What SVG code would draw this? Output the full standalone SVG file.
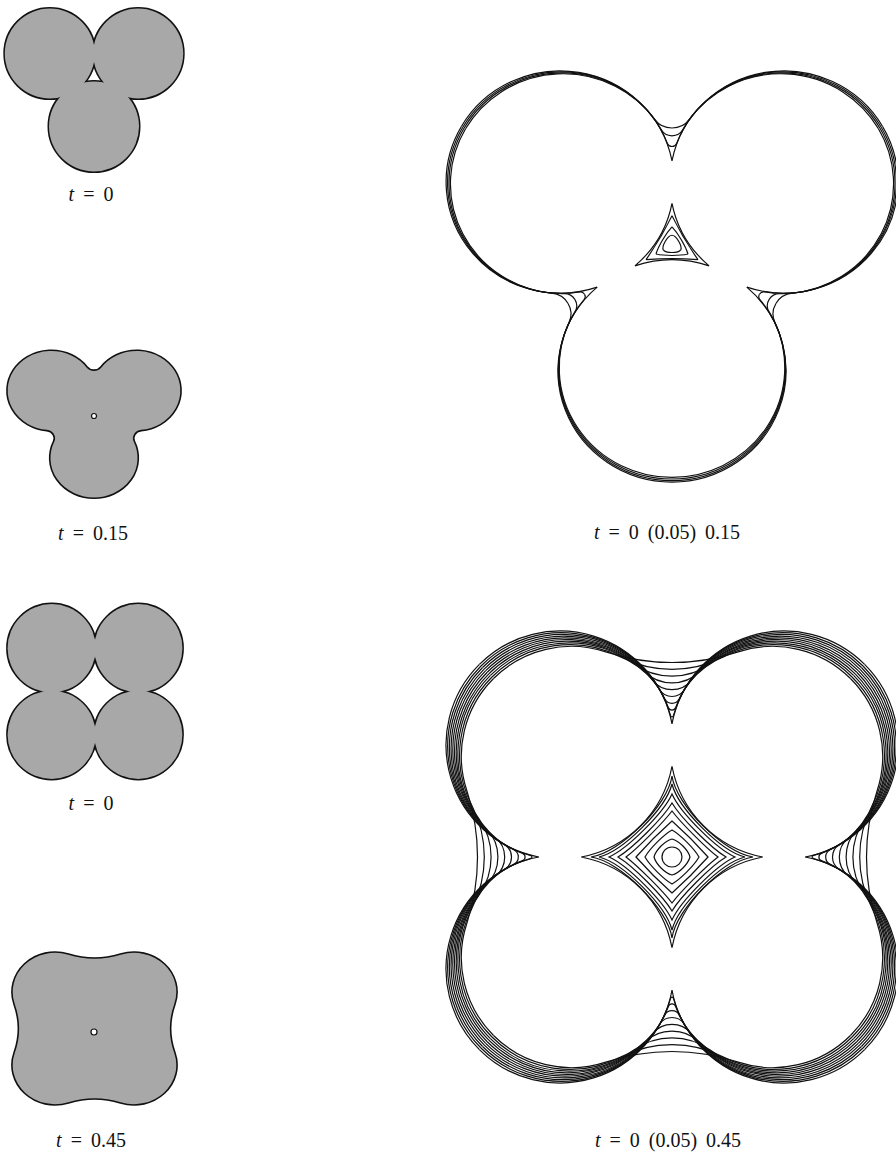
<svg xmlns="http://www.w3.org/2000/svg" width="896" height="1157" viewBox="0 0 896 1157">
<style>
.ln{fill:none;stroke:#111;stroke-width:1.2;vector-effect:non-scaling-stroke}
.lbl{font-family:"Liberation Serif","Times New Roman",serif;font-size:20px;fill:#111;text-anchor:middle;word-spacing:4px}
.gr{fill:#a8a8a8}
.ol{fill:#a8a8a8;stroke:#111;stroke-width:3}
.sh{fill:#a8a8a8;stroke:#111;stroke-width:1.6;vector-effect:non-scaling-stroke}
.hole{fill:#fff;stroke:#111;stroke-width:1.2}
</style>
<defs>
<g id="p3" class="ln">
<path d="M0 -86.4A114 114 0 0 1 210.62 -121.6"/>
<path d="M0 -101A4.907 4.907 0 0 0 4.59 -104.17A113.6 113.6 0 0 1 209.23 -120.8"/>
<path d="M0 -112A12.43 12.43 0 0 0 10.86 -118.39A113.2 113.2 0 0 1 207.84 -120"/>
<path d="M0 -120A21.39 21.39 0 0 0 17.34 -128.86A112.8 112.8 0 0 1 206.46 -119.2"/>
</g>
<g id="tri" class="ln">
<path d="M0 -30C-7.5 -14.34 -16.17 0.675 -25.98 15"/>
<path d="M0 -18.5C-6.03 -12.02 -13.43 0.79 -16.02 9.25"/>
<path d="M0 -10C-4.16 -10 -10.74 1.4 -8.66 5"/>
</g>
<g id="p4" class="ln">
<path d="M-192.61 -192.61A114 114 0 0 1 0 -133.26"/>
<path d="M-191.04 -191.04A113.556 113.556 0 0 1 -1.32 -141.1A1.371 1.371 0 0 0 0 -140.1"/>
<path d="M-189.47 -189.47A113.111 113.111 0 0 1 -3.66 -149.44A3.916 3.916 0 0 0 0 -146.9"/>
<path d="M-187.9 -187.9A112.667 112.667 0 0 1 -7.25 -158.2A8.09 8.09 0 0 0 0 -153.7"/>
<path d="M-186.32 -186.32A112.222 112.222 0 0 1 -12.31 -167.26A14.6 14.6 0 0 0 0 -160.5"/>
<path d="M-184.75 -184.75A111.778 111.778 0 0 1 -19.1 -176.38A24.65 24.65 0 0 0 0 -167.3"/>
<path d="M-183.18 -183.18A111.333 111.333 0 0 1 -27.8 -185.2A40.37 40.37 0 0 0 0 -174.1"/>
<path d="M-181.61 -181.61A110.889 110.889 0 0 1 -38.56 -193.3A66.15 66.15 0 0 0 0 -180.9"/>
<path d="M-180.04 -180.04A110.444 110.444 0 0 1 -51.42 -200.15A112.4 112.4 0 0 0 0 -187.7"/>
<path d="M-178.47 -178.47A110 110 0 0 1 -66.22 -205.14A211.3 211.3 0 0 0 0 -194.5"/>
</g>
</defs>

<g id="small-three-t0">
<circle class="ol" cx="49.8" cy="53.5" r="45"/>
<circle class="ol" cx="138.2" cy="53.5" r="45"/>
<circle class="ol" cx="94" cy="126.5" r="45"/>
<circle class="gr" cx="49.8" cy="53.5" r="45"/>
<circle class="gr" cx="138.2" cy="53.5" r="45"/>
<circle class="gr" cx="94" cy="126.5" r="45"/>
</g>
<text class="lbl" x="91" y="201"><tspan font-style="italic">t</tspan> = 0</text>

<g id="small-three-t015">
<g transform="translate(94,413) scale(0.393,0.3575)">
<path class="sh" d="M17.34 -128.86A112.8 112.8 0 1 1 120.2 49.42A21.39 21.39 0 0 0 102.92 79.45A112.8 112.8 0 1 1 -102.92 79.45A21.39 21.39 0 0 0 -120.2 49.42A112.8 112.8 0 1 1 -17.34 -128.86A21.39 21.39 0 0 0 17.34 -128.86Z"/>
</g>
<circle class="hole" cx="94" cy="416" r="2.5"/>
</g>
<text class="lbl" x="93" y="540"><tspan font-style="italic">t</tspan> = 0.15</text>

<g id="small-four-t0">
<circle class="ol" cx="51.7" cy="648.2" r="44.1"/>
<circle class="ol" cx="138.3" cy="648.2" r="44.1"/>
<circle class="ol" cx="51.7" cy="734.8" r="44.1"/>
<circle class="ol" cx="138.3" cy="734.8" r="44.1"/>
<circle class="gr" cx="51.7" cy="648.2" r="44.1"/>
<circle class="gr" cx="138.3" cy="648.2" r="44.1"/>
<circle class="gr" cx="51.7" cy="734.8" r="44.1"/>
<circle class="gr" cx="138.3" cy="734.8" r="44.1"/>
</g>
<text class="lbl" x="91" y="810"><tspan font-style="italic">t</tspan> = 0</text>

<g id="small-four-t045">
<g transform="translate(94.5,1028.5) scale(0.392,0.363)">
<path class="sh" d="M-66.22 -205.14A211.3 211.3 0 0 0 66.22 -205.14A110 110 0 0 1 205.14 -66.22A211.3 211.3 0 0 0 205.14 66.22A110 110 0 0 1 66.22 205.14A211.3 211.3 0 0 0 -66.22 205.14A110 110 0 0 1 -205.14 66.22A211.3 211.3 0 0 0 -205.14 -66.22A110 110 0 0 1 -66.22 -205.14Z"/>
</g>
<circle class="hole" cx="94" cy="1032" r="3"/>
</g>
<text class="lbl" x="91" y="1147"><tspan font-style="italic">t</tspan> = 0.45</text>

<g id="big-three" transform="translate(672,245) scale(1,0.975)">
<use href="#p3"/>
<use href="#p3" transform="scale(-1,1)"/>
<use href="#p3" transform="rotate(120)"/>
<use href="#p3" transform="rotate(120) scale(-1,1)"/>
<use href="#p3" transform="rotate(240)"/>
<use href="#p3" transform="rotate(240) scale(-1,1)"/>
<path class="ln" d="M0 -42.8A114 114 0 0 1 -37.07 21.4A114 114 0 0 1 37.07 21.4A114 114 0 0 1 0 -42.8Z"/>
<use href="#tri"/>
<use href="#tri" transform="rotate(120)"/>
<use href="#tri" transform="rotate(240)"/>
</g>
<text class="lbl" x="667" y="539"><tspan font-style="italic">t</tspan> = 0 (0.05) 0.15</text>

<g id="big-four" transform="translate(672,857)">
<use href="#p4"/>
<use href="#p4" transform="scale(-1,1)"/>
<use href="#p4" transform="rotate(90)"/>
<use href="#p4" transform="rotate(90) scale(-1,1)"/>
<use href="#p4" transform="rotate(180)"/>
<use href="#p4" transform="rotate(180) scale(-1,1)"/>
<use href="#p4" transform="rotate(270)"/>
<use href="#p4" transform="rotate(270) scale(-1,1)"/>
<g class="ln">
<path d="M0 -90.74A114 114 0 0 0 90.74 0A114 114 0 0 0 0 90.74A114 114 0 0 0 -90.74 0A114 114 0 0 0 0 -90.74Z"/>
<path d="M81 0C52.1 -3.85 3.85 -52.1 0 -81C-3.85 -52.1 -52.1 -3.85 -81 0C-52.1 3.85 -3.85 52.1 0 81C3.85 52.1 52.1 3.85 81 0Z"/>
<path d="M73 0C48.8 -6.04 6.04 -48.8 0 -73C-6.04 -48.8 -48.8 -6.04 -73 0C-48.8 6.04 -6.04 48.8 0 73C6.04 48.8 48.8 6.04 73 0Z"/>
<path d="M63 0C44.28 -8.28 8.28 -44.28 0 -63C-8.28 -44.28 -44.28 -8.28 -63 0C-44.28 8.28 -8.28 44.28 0 63C8.28 44.28 44.28 8.28 63 0Z"/>
<path d="M54 0C39.17 -8.82 8.82 -39.17 0 -54C-8.82 -39.17 -39.17 -8.82 -54 0C-39.17 8.82 -8.82 39.17 0 54C8.82 39.17 39.17 8.82 54 0Z"/>
<path d="M46 0C34.3 -8.84 8.84 -34.3 0 -46C-8.84 -34.3 -34.3 -8.84 -46 0C-34.3 8.84 -8.84 34.3 0 46C8.84 34.3 34.3 8.84 46 0Z"/>
<path d="M36 0C28.2 -8.82 8.82 -28.2 0 -36C-8.82 -28.2 -28.2 -8.82 -36 0C-28.2 8.82 -8.82 28.2 0 36C8.82 28.2 28.2 8.82 36 0Z"/>
<path d="M27 0C22.32 -8.29 8.29 -22.32 0 -27C-8.29 -22.32 -22.32 -8.29 -27 0C-22.32 8.29 -8.29 22.32 0 27C8.29 22.32 22.32 8.29 27 0Z"/>
<path d="M18 0C16.05 -7.17 7.17 -16.05 0 -18C-7.17 -16.05 -16.05 -7.17 -18 0C-16.05 7.17 -7.17 16.05 0 18C7.17 16.05 16.05 7.17 18 0Z"/>
<circle cx="0" cy="0" r="10"/>
</g>
</g>
<text class="lbl" x="668" y="1147"><tspan font-style="italic">t</tspan> = 0 (0.05) 0.45</text>
</svg>
